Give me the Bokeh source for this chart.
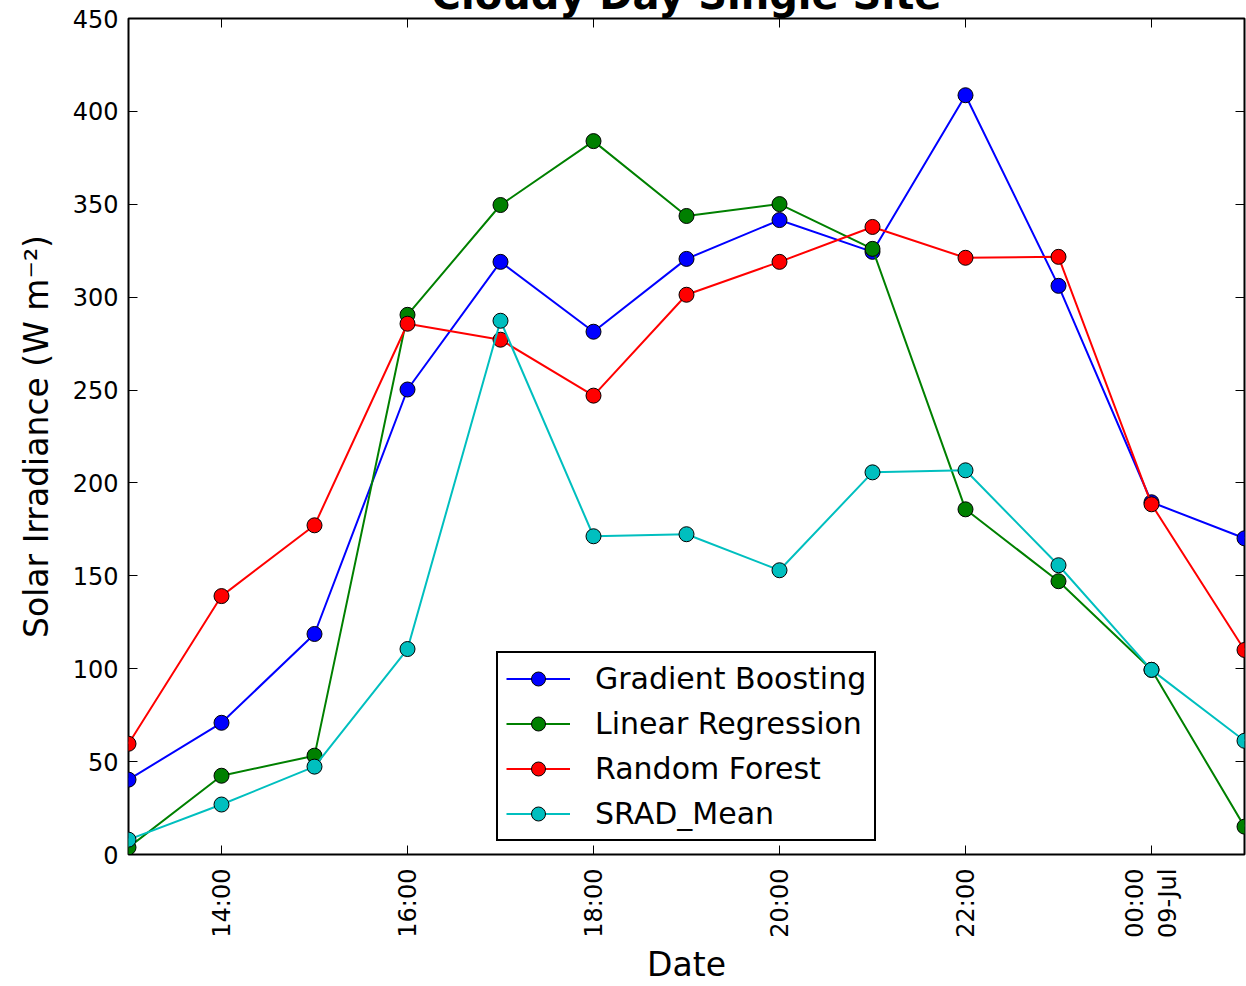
from bokeh.plotting import figure
from bokeh.models import (Range1d, FixedTicker, LinearAxis, Legend, LegendItem, Title)
from bokeh.embed import file_html
from bokeh.resources import INLINE
from math import pi

# Hourly timestamps, 8 Jul 13:00 through 9 Jul 01:00
times = ["13:00", "14:00", "15:00", "16:00", "17:00", "18:00", "19:00",
         "20:00", "21:00", "22:00", "23:00", "00:00", "01:00"]

gradient_boosting = [40.3, 70.9, 118.7, 250.3, 319.0, 281.4, 320.6,
                     341.5, 324.4, 408.7, 306.1, 189.6, 170.2]
linear_regression = [3.8, 42.4, 53.2, 290.5, 349.6, 384.0, 343.7,
                     350.1, 326.0, 185.8, 147.1, 99.4, 15.0]
random_forest = [59.6, 139.1, 177.2, 285.7, 277.1, 247.0, 301.3,
                 319.0, 337.8, 321.2, 321.7, 188.5, 110.1]
srad_mean = [8.0, 26.9, 47.3, 110.6, 287.3, 171.3, 172.4,
             153.0, 205.7, 206.8, 155.7, 99.4, 61.2]

series_names = ["Gradient Boosting", "Linear Regression", "Random Forest", "SRAD_Mean"]
series_colors = ["#0000ff", "#008000", "#ff0000", "#00bfbf"]
series_values = [gradient_boosting, linear_regression, random_forest, srad_mean]

x_tick_labels = {1: "14:00", 3: "16:00", 5: "18:00", 7: "20:00",
                 9: "22:00", 11: "00:00\n09-Jul"}
y_ticks = [0, 50, 100, 150, 200, 250, 300, 350, 400, 450]

FONT = "DejaVu Sans"
TOP_SHIFT = 52  # the page scrolls this much of the title band out of view

xs = list(range(len(times)))

p = figure(width=1246, height=986 + TOP_SHIFT, output_backend="svg", toolbar_location=None,
           x_range=Range1d(0, len(times) - 1), y_range=Range1d(0, 450),
           min_border_left=128, min_border_right=2, min_border_top=18 + TOP_SHIFT,
           min_border_bottom=130)
p.styles = {"margin-top": f"-{TOP_SHIFT}px"}
p.background_fill_color = "white"
p.border_fill_color = "white"
p.outline_line_color = "black"
p.outline_line_width = 2
p.grid.visible = False

# bottom axis
xa = p.xaxis[0]
xa.ticker = FixedTicker(ticks=list(x_tick_labels.keys()))
xa.major_label_overrides = x_tick_labels
xa.major_label_orientation = pi / 2
xa.axis_label = "Date"

ya = p.yaxis[0]
ya.ticker = FixedTicker(ticks=y_ticks)
ya.axis_label = "Solar Irradiance (W m\u207b\u00b2)"

for ax in (xa, ya):
    ax.axis_line_color = None
    ax.major_tick_in = 9
    ax.major_tick_out = 0
    ax.major_tick_line_color = "black"
    ax.major_tick_line_width = 1
    ax.minor_tick_line_color = None
    ax.major_label_text_font = FONT
    ax.major_label_text_font_size = "24px"
    ax.major_label_text_color = "black"
    ax.axis_label_text_font = FONT
    ax.axis_label_text_font_size = "33px"
    ax.axis_label_text_font_style = "normal"
    ax.axis_label_text_color = "black"
xa.major_label_standoff = 14
xa.axis_label_standoff = 4
ya.major_label_standoff = 10
ya.axis_label_standoff = 14

# mirrored ticks on top and right (no labels)
for loc, tick_list in (("above", list(x_tick_labels.keys())), ("right", y_ticks)):
    ax = LinearAxis(ticker=FixedTicker(ticks=tick_list))
    ax.axis_line_color = None
    ax.major_tick_in = 9
    ax.major_tick_out = 0
    ax.major_tick_line_color = "black"
    ax.minor_tick_line_color = None
    ax.major_label_overrides = {t: "" for t in tick_list}
    ax.major_label_text_color = None
    ax.major_label_standoff = 0
    p.add_layout(ax, loc)

items = []
for name, color, vals in zip(series_names, series_colors, series_values):
    ln = p.line(xs, vals, line_color=color, line_width=2)
    sc = p.scatter(xs, vals, size=15, fill_color=color, line_color="black", line_width=1)
    items.append(LegendItem(label=name, renderers=[ln, sc]))

legend = Legend(items=items, location=(368, 13))
legend.label_text_font = FONT
legend.label_text_font_size = "30px"
legend.label_text_color = "black"
legend.glyph_width = 64
legend.glyph_height = 35
legend.label_height = 35
legend.spacing = 10
legend.padding = 8
legend.label_standoff = 25
legend.margin = 0
legend.border_line_color = "black"
legend.border_line_alpha = 1
legend.border_line_width = 2
legend.background_fill_alpha = 1
p.add_layout(legend, "center")

title = Title(text="Cloudy Day Single Site", align="center",
              text_font=FONT, text_font_style="bold", text_font_size="40px",
              text_color="black", standoff=1)
p.add_layout(title, "above")

open("out.html", "w").write(file_html(p, INLINE))
